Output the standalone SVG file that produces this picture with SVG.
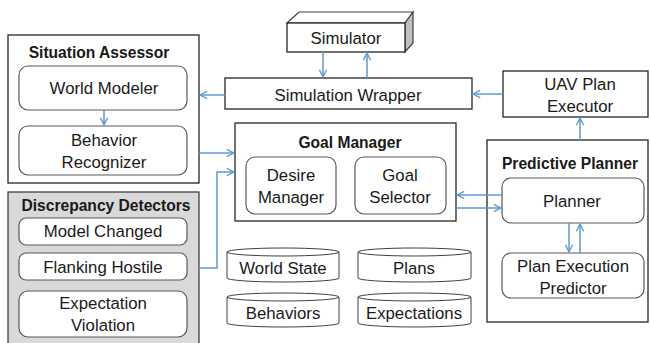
<svg xmlns="http://www.w3.org/2000/svg" width="650" height="343" viewBox="0 0 650 343">
<defs>
<style>
.box{fill:#fff;stroke:#262626;stroke-width:1.3}
.rbox{fill:#fff;stroke:#595959;stroke-width:1.2}
.t{font-family:"Liberation Sans",Arial,sans-serif;font-size:16.8px;fill:#1a1a1a;text-anchor:middle;dominant-baseline:central}
.b{font-weight:bold;font-size:15.6px}
.c{fill:none;stroke:#5B9BD5;stroke-width:1.5}
.cyl{fill:#fff;stroke:#404040;stroke-width:1}
</style>
<marker id="ah" viewBox="0 0 10 10" refX="9" refY="5" markerWidth="9" markerHeight="9" markerUnits="userSpaceOnUse" orient="auto">
<path d="M1,1 L9,5 L1,9" fill="none" stroke="#5B9BD5" stroke-width="1.5"/>
</marker>
</defs>
<rect width="650" height="343" fill="#fff"/>

<g id="simulator">
<polygon points="287,23 299,12 413,12 405,23" fill="#fff" stroke="#404040" stroke-width="1.2"/>
<polygon points="405,23 413,12 413,43 405,52" fill="#bfbfbf" stroke="#404040" stroke-width="1.2"/>
<rect x="287" y="23" width="118" height="29" class="box"/>
<text x="346" y="38" class="t">Simulator</text>
</g>

<g id="simulation-wrapper">
<rect x="225" y="78" width="247" height="31" class="box"/>
<text x="348" y="95" class="t">Simulation Wrapper</text>
</g>

<g id="uav-plan-executor">
<rect x="503" y="71" width="145" height="46" class="box"/>
<text x="580" y="84" class="t">UAV Plan</text>
<text x="580" y="106" class="t">Executor</text>
</g>

<g id="situation-assessor">
<rect x="8" y="35" width="191" height="148" class="box"/>
<text x="99" y="52" class="t b">Situation Assessor</text>
<g id="world-modeler">
<rect x="19" y="66" width="168" height="44" rx="9" class="rbox"/>
<text x="104" y="88" class="t">World Modeler</text>
</g>
<g id="behavior-recognizer">
<rect x="19" y="126" width="168" height="49" rx="9" class="rbox"/>
<text x="104" y="140" class="t">Behavior</text>
<text x="104" y="162" class="t">Recognizer</text>
</g>
</g>

<g id="discrepancy-detectors">
<rect x="8" y="192" width="191" height="160" fill="#d9d9d9" stroke="#404040" stroke-width="1.3"/>
<text x="106" y="205" class="t b">Discrepancy Detectors</text>
<g id="model-changed">
<rect x="19" y="218" width="168" height="27" rx="7" class="rbox"/>
<text x="103" y="231" class="t">Model Changed</text>
</g>
<g id="flanking-hostile">
<rect x="19" y="253" width="168" height="27" rx="7" class="rbox"/>
<text x="103" y="267" class="t">Flanking Hostile</text>
</g>
<g id="expectation-violation">
<rect x="19" y="291" width="168" height="46" rx="9" class="rbox"/>
<text x="103" y="303" class="t">Expectation</text>
<text x="103" y="325" class="t">Violation</text>
</g>
</g>

<g id="goal-manager">
<rect x="235" y="123" width="221" height="98" class="box"/>
<text x="350" y="142" class="t b">Goal Manager</text>
<g id="desire-manager">
<rect x="246" y="157" width="90" height="57" rx="9" class="rbox"/>
<text x="291" y="175" class="t">Desire</text>
<text x="291" y="197" class="t">Manager</text>
</g>
<g id="goal-selector">
<rect x="355" y="157" width="91" height="57" rx="9" class="rbox"/>
<text x="400" y="175" class="t">Goal</text>
<text x="400" y="197" class="t">Selector</text>
</g>
</g>

<g id="predictive-planner">
<rect x="487" y="140" width="161" height="182" class="box"/>
<text x="570" y="163" class="t b">Predictive Planner</text>
<g id="planner">
<rect x="502" y="178" width="142" height="45" rx="9" class="rbox"/>
<text x="572" y="201" class="t">Planner</text>
</g>
<g id="plan-execution-predictor">
<rect x="502" y="253" width="142" height="45" rx="9" class="rbox"/>
<text x="573" y="266" class="t">Plan Execution</text>
<text x="573" y="288" class="t">Predictor</text>
</g>
</g>

<g id="world-state">
<path d="M227,252 L227,278 A56,4 0 0 0 339,278 L339,252" class="cyl"/>
<ellipse cx="283" cy="252" rx="56" ry="4" class="cyl"/>
<text x="283" y="268" class="t">World State</text>
</g>
<g id="plans">
<path d="M358,252 L358,278 A56.5,4 0 0 0 471,278 L471,252" class="cyl"/>
<ellipse cx="414.5" cy="252" rx="56.5" ry="4" class="cyl"/>
<text x="414" y="268" class="t">Plans</text>
</g>
<g id="behaviors">
<path d="M227,297 L227,323 A56,4 0 0 0 339,323 L339,297" class="cyl"/>
<ellipse cx="283" cy="297" rx="56" ry="4" class="cyl"/>
<text x="283" y="313" class="t">Behaviors</text>
</g>
<g id="expectations">
<path d="M358,297 L358,323 A56.5,4 0 0 0 471,323 L471,297" class="cyl"/>
<ellipse cx="414.5" cy="297" rx="56.5" ry="4" class="cyl"/>
<text x="414" y="313" class="t">Expectations</text>
</g>

<g id="connectors">
<line x1="323" y1="52" x2="323" y2="77" class="c" marker-end="url(#ah)"/>
<line x1="367" y1="78" x2="367" y2="53" class="c" marker-end="url(#ah)"/>
<line x1="225" y1="95" x2="200" y2="95" class="c" marker-end="url(#ah)"/>
<line x1="503" y1="94" x2="473" y2="94" class="c" marker-end="url(#ah)"/>
<line x1="580" y1="140" x2="580" y2="118" class="c" marker-end="url(#ah)"/>
<line x1="104" y1="110" x2="104" y2="125" class="c" marker-end="url(#ah)"/>
<line x1="199" y1="153" x2="234" y2="153" class="c" marker-end="url(#ah)"/>
<polyline points="199,268 217,268 217,172 234,172" class="c" marker-end="url(#ah)"/>
<line x1="502" y1="195" x2="457" y2="195" class="c" marker-end="url(#ah)"/>
<line x1="456" y1="208" x2="501" y2="208" class="c" marker-end="url(#ah)"/>
<line x1="569" y1="223" x2="569" y2="252" class="c" marker-end="url(#ah)"/>
<line x1="580" y1="253" x2="580" y2="224" class="c" marker-end="url(#ah)"/>
</g>
</svg>
